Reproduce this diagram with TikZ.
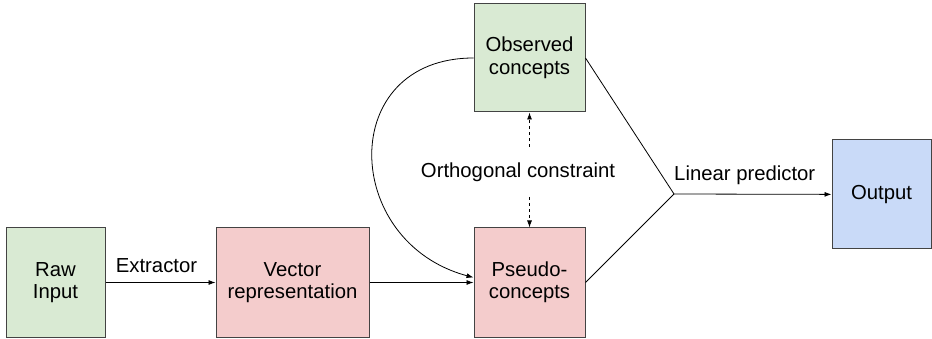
\documentclass[tikz,border=0pt]{standalone}
\usepackage{xcolor}
\usepackage{fontspec}
\setmainfont{Liberation Sans}
\usepackage{tikz}
\usetikzlibrary{shapes, arrows.meta, positioning}

\definecolor{boxgreen}{HTML}{D9EAD3}
\definecolor{boxred}{HTML}{F4CCCC}
\definecolor{boxblue}{HTML}{C9DAF8}
\definecolor{boxline}{HTML}{434343}

\begin{document}
\begin{tikzpicture}[
        x=1pt, y=-1pt,
        font=\fontsize{20.3}{22.5}\selectfont,
        block/.style={rectangle, draw=boxline, line width=1pt, minimum width=99pt, minimum height=109pt, align=center, inner sep=2pt},
        arrow/.style={line width=0.8pt, -{Latex[length=7pt,width=5pt]}}
    ]
    \useasboundingbox (0,0) rectangle (932,339);

    \node [block, fill=boxgreen] at (55.5,282.5) (raw) {Raw\\Input};
    \node [block, fill=boxred, minimum width=153pt, right=110pt of raw] (vector) {Vector\\representation};
    \node [block, fill=boxred, minimum width=111pt, right=104pt of vector] (pseudo) {Pseudo-\\concepts};
    \node [block, fill=boxgreen, minimum width=111pt, minimum height=108pt, above=115pt of pseudo] (observed) {Observed\\concepts};
    \node [block, fill=boxblue] at (881.5,194.5) (output) {Output};

    \node (ortho) at (518,172) {Orthogonal constraint};
    \coordinate (joint) at (674,194);

    \draw [arrow] (raw) -- node[above, xshift=-4pt, yshift=6pt] {Extractor} (vector);
    \draw [arrow] (vector) -- (pseudo);
    \draw [arrow] (observed.west) to[out=180, in=165, looseness=1.6] ([yshift=5pt]pseudo.west);

    \draw [arrow, dashed] (observed.south |- ortho.north) ++(0,-12) -- (observed.south);
    \draw [arrow, dashed] (pseudo.north |- ortho.south) ++(0,12) -- (pseudo.north);

    \draw [line width=0.8pt] (observed.east) -- (joint);
    \draw [line width=0.8pt] (pseudo.east) -- (joint);
    \draw [arrow] (joint) -- node[above, xshift=-8pt, yshift=6pt] {Linear predictor} (output);

\end{tikzpicture}
\end{document}
